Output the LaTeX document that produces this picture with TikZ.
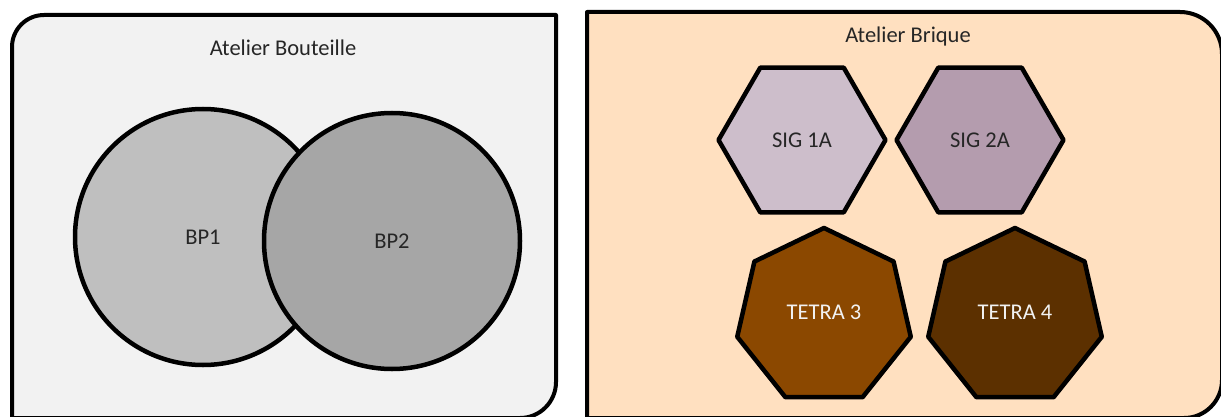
\documentclass[tikz,border=0pt]{standalone}
\usepackage{fontspec}
\setmainfont{Carlito}
\usepackage{tikz}
\usetikzlibrary{shapes.geometric}
\definecolor{boxgrey}{HTML}{F2F2F2}
\definecolor{boxpeach}{HTML}{FFE0C0}
\definecolor{bpone}{HTML}{BFBFBF}
\definecolor{bptwo}{HTML}{A6A6A6}
\definecolor{sigone}{HTML}{CDBECB}
\definecolor{sigtwo}{HTML}{B49CAE}
\definecolor{tetrathree}{HTML}{8B4800}
\definecolor{tetrafour}{HTML}{5C3000}
\definecolor{inktext}{HTML}{262626}
\tikzset{
	atelier/.style={
		line width=4pt,
		line join=round,
	},
	title/.style={
		text=inktext,
		font=\fontsize{22.5}{27}\selectfont,
		inner sep=0,
	},
	bottle/.style={
		circle,
		draw,
		line width=4.5pt,
		minimum size=256pt,
		inner sep=0,
		text=inktext,
		font=\fontsize{22.5}{27}\selectfont,
	},
	sig/.style={
		regular polygon,
		regular polygon sides=6,
		draw,
		line width=4.5pt,
		line join=round,
		minimum size=167pt,
		inner sep=0,
		text=inktext,
		font=\fontsize{22.5}{27}\selectfont,
	},
	tetra/.style={
		regular polygon,
		regular polygon sides=7,
		draw,
		line width=4.5pt,
		line join=round,
		minimum size=178pt,
		inner sep=0,
		text depth=10pt,
		text=boxgrey,
		font=\fontsize{22.5}{27}\selectfont,
	}
}
\begin{document}
\begin{tikzpicture}[x=1pt,y=1pt]
	\clip (0,0) rectangle (1221,416);
	
	% atelier bouteille
	\draw[atelier,fill=boxgrey] (12,-2) -- (12,369) arc[start angle=180,end angle=90,radius=32] -- (556,401) -- (556,34) arc[start angle=0,end angle=-90,radius=36] -- cycle;
	% atelier brique
	\draw[atelier,fill=boxpeach] (587,-2) -- (587,404) -- (1180,404) arc[start angle=90,end angle=0,radius=42] -- (1222,36) arc[start angle=0,end angle=-90,radius=38] -- cycle;
	
	\node[title] (bouteille) at (283,368) {Atelier Bouteille};
	\node[title] (brique) at (908,379) {Atelier Brique};
	
	\node[bottle,fill=bpone] (bp1) at (203,179) {BP1};
	\node[bottle,fill=bptwo] (bp2) at (392,175) {BP2};
	
	\node[sig,fill=sigone] (sig1) at (802,276) {SIG 1A};
	\node[sig,fill=sigtwo] (sig2) at (980,276) {SIG 2A};
	
	\node[tetra,fill=tetrathree] (tetra3) at (824,99) {TETRA 3};
	\node[tetra,fill=tetrafour] (tetra4) at (1015,99) {TETRA 4};
	
\end{tikzpicture}
\end{document}
